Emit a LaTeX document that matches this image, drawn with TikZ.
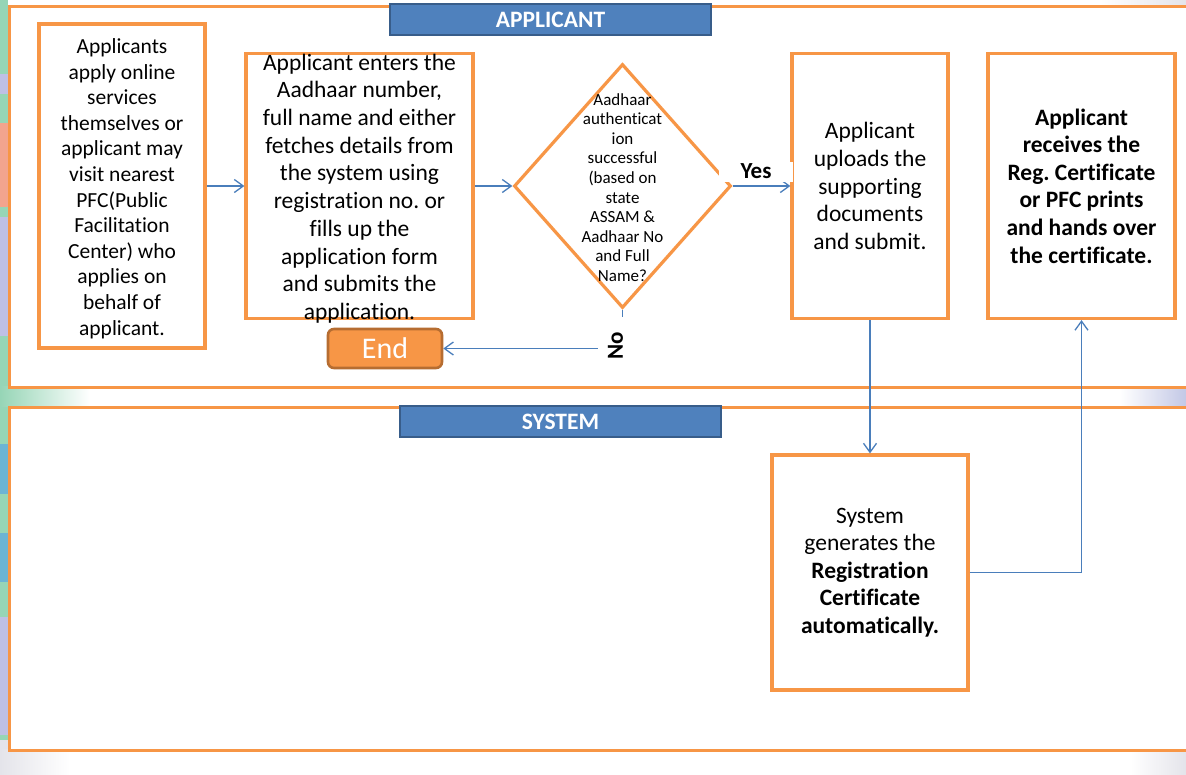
\documentclass[tikz,border=0pt]{standalone}
\usepackage{fontspec}
\setmainfont{Carlito}[RawFeature={-liga;-clig;-calt;-dlig}]
\usetikzlibrary{arrows.meta,shapes.geometric}
\frenchspacing
\definecolor{orng}{HTML}{F79646}
\definecolor{orngdk}{HTML}{B66D31}
\definecolor{hdrblue}{HTML}{4F81BD}
\definecolor{hdrborder}{HTML}{385D8A}
\definecolor{arrblue}{HTML}{4A7EBB}
\definecolor{bggreen}{HTML}{96D5B6}
\definecolor{bgpurple}{HTML}{BEC0E4}
\definecolor{bgcoral}{HTML}{F2A48E}
\definecolor{bgblue}{HTML}{6CB4D4}
\definecolor{bggrey}{HTML}{E4E4EA}
\definecolor{bgbluegrey}{HTML}{C3C8E6}
\tikzset{
  lanebox/.style={draw=orng, line width=3pt, fill=white, inner sep=0pt, anchor=north west},
  hdr/.style={draw=hdrborder, line width=2.2pt, fill=hdrblue, text=white, inner sep=0pt,
    font=\fontsize{23.5}{26}\selectfont\bfseries},
  stepbox/.style={draw=orng, line width=3.2pt, fill=white, inner sep=0pt, align=center,
    font=\fontsize{23.5}{27.6}\selectfont},
  decision/.style={diamond, draw=orng, line width=3.2pt, fill=white, inner sep=0pt},
  endbox/.style={rounded corners=6pt, draw=orngdk, line width=2.6pt, fill=orng, text=white,
    inner sep=0pt, font=\fontsize{30}{34}\selectfont},
  arr/.style={draw=arrblue, line width=1.3pt, -{Straight Barb[length=9pt,width=13pt]}},
  lbl/.style={fill=white, inner sep=0pt, font=\fontsize{23}{26}\selectfont\bfseries},
}
\begin{document}
\begin{tikzpicture}[x=1pt,y=-1pt]
\clip (0,0) rectangle (1186,774);
\fill[white] (0,0) rectangle (1186,774);
% background decorations of the slide
\fill[bggreen] (0,0) rectangle (8,774);
\fill[bgpurple] (0,74) rectangle (8,94);
\fill[bgcoral] (0,123) rectangle (8,207);
\fill[bgpurple] (0,217) rectangle (8,336);
\fill[bgblue] (0,444) rectangle (8,494);
\fill[bgblue] (0,533) rectangle (8,582);
\fill[bgpurple] (0,617) rectangle (8,735);
\fill[bggrey] (0,740) rectangle (8,774);
\shade[left color=bggreen, right color=white] (0,386) rectangle (90,406);
\shade[left color=bggrey, right color=white] (0,749) rectangle (70,774);
\shade[left color=white, right color=bggrey] (1130,749) rectangle (1186,774);
\shade[left color=white, right color=bgbluegrey] (1120,386) rectangle (1186,406);
\shade[left color=white, right color=bggrey] (1100,0) rectangle (1186,5);

% swimlanes
\node[lanebox, minimum width=1200pt, minimum height=381pt] (laneA) at (8,5) {};
\node[lanebox, minimum width=1200pt, minimum height=343pt] (laneS) at (8,406) {};
\node[hdr, minimum width=321pt, minimum height=31pt] (hA) at (550.5,19.5) {APPLICANT};
\node[hdr, minimum width=321pt, minimum height=31pt] (hS) at (560.5,421.5) {SYSTEM};

% steps
\node[stepbox, minimum width=166pt, minimum height=324pt] (b1) at (122,186) {};
\node[align=center, inner sep=0pt, font=\fontsize{21.5}{25.6}\selectfont] (b1t) at (122,188.5)
  {Applicants\\apply online\\services\\themselves or\\applicant may\\visit nearest\\PFC(Public\\Facilitation\\Center) who\\applies on\\behalf of\\applicant.};
\node[stepbox, minimum width=227pt, minimum height=265pt] (b2) at (359.5,186) {};
\node[align=center, inner sep=0pt, font=\fontsize{23.5}{27.7}\selectfont] (b2t) at (359.5,188.5)
  {Applicant enters the\\Aadhaar number,\\full name and either\\fetches details from\\the system using\\registration no. or\\fills up the\\application form\\and submits the\\application.};
\node[decision, minimum width=217pt, minimum height=244pt] (dia) at (622.5,186) {};
\node[align=center, inner sep=0pt, font=\fontsize{17}{19.6}\selectfont] (diat) at (622.5,187.5)
  {Aadhaar\\authenticat\\ion\\successful\\(based on\\state\\ASSAM \&\\Aadhaar No\\and Full\\Name?};
\node[stepbox, minimum width=156pt, minimum height=265pt] (b4) at (870,186)
  {Applicant\\uploads the\\supporting\\documents\\and submit.};
\node[stepbox, minimum width=187pt, minimum height=265pt, font=\fontsize{23.5}{27.6}\selectfont\bfseries] (b5) at (1081.5,186)
  {Applicant\\receives the\\Reg. Certificate\\or PFC prints\\and hands over\\the certificate.};
\node[stepbox, minimum width=196pt, minimum height=235pt] (sys) at (870,572.5)
  {System\\generates the\\\textbf{Registration}\\\textbf{Certificate}\\\textbf{automatically.}};
\node[endbox, minimum width=114pt, minimum height=39pt] (endn) at (385,348.5) {End};

% connectors
\draw[arr] (b1.east) -- (b2.west);
\draw[arr] (b2.east) -- (dia.west);
\draw[arr] (dia.east) -- node[lbl, xshift=-5.5pt, yshift=14.5pt, minimum width=74pt, minimum height=20pt] (yes) {Yes} (b4.west);
\draw[arr] (dia.south) |- node[lbl, xshift=-7pt, yshift=2.5pt, rotate=90, minimum width=58pt, minimum height=36pt] (no) {No} (endn.east);
\draw[arr] (b4.south) -- (sys.north);
\draw[arr] (sys.east) -| (b5.south);
\end{tikzpicture}
\end{document}
